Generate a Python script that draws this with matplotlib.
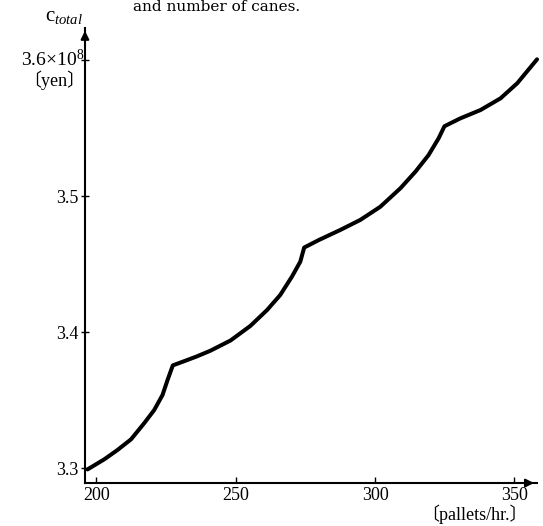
import matplotlib
matplotlib.use("Agg")
import matplotlib.pyplot as plt

# cost curve (pallets/hr. vs total cost, 1e8 yen)
rate = [196.9, 202.9, 207.6, 212.5, 217.2, 220.8, 223.8, 225.6, 227.5,
        231.6, 236.0, 240.9, 248.2, 255.3, 261.3, 266.0, 270.2,
        273.2, 274.6,
        279.8, 287.5, 294.7, 301.9, 309.1, 314.5, 319.2, 322.8, 324.9,
        330.6, 337.8, 345.0, 351.0, 358.1]
cost = [3.2990, 3.3064, 3.3132, 3.3211, 3.3329, 3.3426, 3.3537, 3.3647, 3.3755,
        3.3786, 3.3820, 3.3862, 3.3938, 3.4045, 3.4162, 3.4272, 3.4407,
        3.4517, 3.4621,
        3.4676, 3.4750, 3.4824, 3.4921, 3.5057, 3.5179, 3.5301, 3.5424, 3.5513,
        3.5571, 3.5632, 3.5718, 3.5829, 3.6005]

xticks = [200, 250, 300, 350]
yticks = [3.3, 3.4, 3.5, 3.6]
ylabels = ["3.3", "3.4", "3.5", ""]

plt.rcParams["font.family"] = ["Liberation Serif", "Noto Sans CJK JP", "DejaVu Serif"]
plt.rcParams["mathtext.fontset"] = "custom"
plt.rcParams["mathtext.it"] = "Liberation Serif:italic"
plt.rcParams["mathtext.rm"] = "Liberation Serif"

fig = plt.figure(figsize=(5.43, 5.26), dpi=100)
ax = fig.add_axes([0.1565, 0.0817, 0.832, 0.865])

ax.plot(rate, cost, color="black", linewidth=2.9, solid_capstyle="round",
        solid_joinstyle="round", clip_on=False)

ax.set_xlim(196, 358)
ax.set_ylim(3.289, 3.6235)
ax.spines["top"].set_visible(False)
ax.spines["right"].set_visible(False)
ax.spines["left"].set_linewidth(1.5)
ax.spines["bottom"].set_linewidth(1.5)

ax.set_xticks(xticks)
ax.set_xticklabels([str(t) for t in xticks], fontsize=13)
ax.set_yticks(yticks)
ax.set_yticklabels(ylabels, fontsize=13)
ax.tick_params(axis="x", direction="in", length=4, width=1, pad=3)
ax.tick_params(axis="y", direction="inout", length=6, width=1, pad=2)

# arrow heads on the axes
ax.annotate("", xy=(1.0, 0), xytext=(0.97, 0), xycoords="axes fraction",
            arrowprops=dict(arrowstyle="-|>", color="black", lw=1.5,
                            mutation_scale=12), annotation_clip=False)
ax.annotate("", xy=(0, 1.0), xytext=(0, 0.97), xycoords="axes fraction",
            arrowprops=dict(arrowstyle="-|>", color="black", lw=1.5,
                            mutation_scale=12), annotation_clip=False)

# axis labels
fig.text(0.155, 0.886, r"3.6$\times$10$^{8}$", ha="right", va="center", fontsize=14)
fig.text(0.157, 0.848, "〔yen〕", ha="right", va="center", fontsize=13)
fig.text(0.082, 0.968, r"c$_{\it total}$", ha="left", va="center", fontsize=15)
fig.text(0.972, 0.022, "〔pallets/hr.〕", ha="right", va="center", fontsize=13)
fig.text(0.245, 1.0, "and number of canes.", ha="left", va="top",
         fontsize=11, family="DejaVu Serif")

fig.savefig("out.png", dpi=100)
